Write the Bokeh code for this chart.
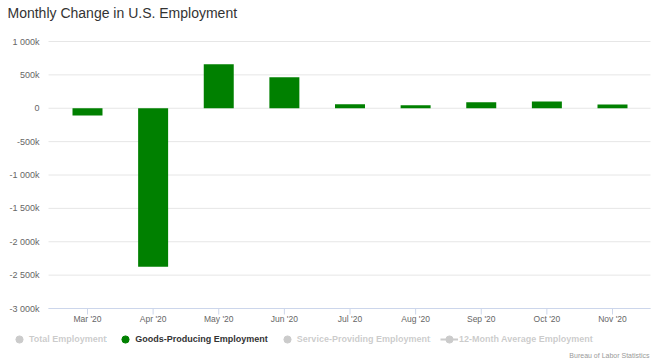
import math
from bokeh.plotting import figure
from bokeh.layouts import column
from bokeh.models import Range1d, Legend, LegendItem, Label
from bokeh.embed import file_html
from bokeh.resources import INLINE

# ---- data (thousands of jobs) ----
months = ["Mar '20", "Apr '20", "May '20", "Jun '20", "Jul '20",
          "Aug '20", "Sep '20", "Oct '20", "Nov '20"]
goods_producing = [-110, -2375, 660, 465, 60, 45, 90, 100, 55]

y_ticks = [1000, 500, 0, -500, -1000, -1500, -2000, -2500, -3000]
y_tick_labels = ["1 000k", "500k", "0", "-500k", "-1 000k", "-1 500k",
                 "-2 000k", "-2 500k", "-3 000k"]

legend_labels = ["Total Employment", "Goods-Producing Employment",
                 "Service-Providing Employment", "12-Month Average Employment"]

title_text = "Monthly Change in U.S. Employment"
credits_text = "Bureau of Labor Statistics"

FONT = "Liberation Sans"
GREEN = "#008000"
W = 657

# plot-area geometry (styling)
PLOT_X0, PLOT_X1 = -0.594, 8.579      # extent of plot area, category units
VIEW_X0, VIEW_X1 = -1.3257, 8.6857    # full canvas width, category units
YLABEL_X = -0.731                     # right edge of y tick labels
Y_MIN, Y_MAX = -3000, 1000
K_PER_PX = 4000 / 267
VIEW_Y0 = Y_MIN - 22 * K_PER_PX       # room below for the category labels
VIEW_Y1 = Y_MAX + 7 * K_PER_PX


def bare_fig(h):
    f = figure(width=W, height=h, x_range=Range1d(0, W), y_range=Range1d(0, h),
               output_backend="svg", toolbar_location=None, title=None,
               x_axis_type=None, y_axis_type=None, min_border=0)
    f.outline_line_color = None
    f.xgrid.visible = False
    f.ygrid.visible = False
    f.background_fill_color = "white"
    f.border_fill_color = "white"
    return f


# ---------- title strip ----------
p_top = bare_fig(33)
p_top.add_layout(Label(x=7, y=20.5, text=title_text, text_align="left",
                       text_baseline="alphabetic", text_font=FONT,
                       text_font_size="14px", text_color="#333333"))

# ---------- main chart ----------
x_idx = list(range(len(months)))
p = figure(frame_width=W, frame_height=296,
           x_range=Range1d(VIEW_X0, VIEW_X1),
           y_range=Range1d(VIEW_Y0, VIEW_Y1),
           output_backend="svg", toolbar_location=None, title=None,
           x_axis_type=None, y_axis_type=None,
           min_border_left=0, min_border_right=0,
           min_border_top=1, min_border_bottom=0)
p.outline_line_color = None
p.background_fill_color = "white"
p.border_fill_color = "white"
p.xgrid.visible = False
p.ygrid.visible = False

# horizontal grid lines at the y ticks
p.segment(x0=PLOT_X0, x1=PLOT_X1, y0=y_ticks, y1=y_ticks,
          line_color="#e6e6e6", line_width=1)

# y tick labels
p.text(x=[YLABEL_X] * len(y_ticks), y=y_ticks, text=y_tick_labels,
       text_align="right", text_baseline="middle",
       text_font={"value": FONT}, text_font_size="9px", text_color="#666666")

# bars
p.vbar(x=x_idx, top=goods_producing, bottom=0, width=0.457,
       fill_color=GREEN, line_color=None)

# category axis: line, ticks, labels
p.segment(x0=PLOT_X0, x1=PLOT_X1, y0=Y_MIN, y1=Y_MIN,
          line_color="#ccd6eb", line_width=1)
p.ray(x=x_idx, y=[Y_MIN] * len(x_idx), length=6, length_units="screen",
      angle=-math.pi / 2, line_color="#ccd6eb", line_width=1)
p.text(x=x_idx, y=[Y_MIN] * len(x_idx), text=months, y_offset=5,
       text_align="center", text_baseline="top",
       text_font={"value": FONT}, text_font_size="8.5px", text_color="#666666")

# ---------- legend + credits strip ----------
p_bot = bare_fig(30)
off = dict(x=[-100], y=[-100])
r_total = p_bot.scatter(marker="circle", size=8, color="#333333", visible=False, **off)
r_goods = p_bot.scatter(marker="circle", size=8, color=GREEN, **off)
r_serv = p_bot.scatter(marker="circle", size=8, color="#333333", visible=False, **off)
r_avg_l = p_bot.line(x=[-100, -90], y=[-100, -100], line_color="#333333",
                     line_width=2, visible=False)
r_avg_m = p_bot.scatter(marker="circle", size=8, color="#333333", visible=False, **off)

legend = Legend(items=[
    LegendItem(label=legend_labels[0], renderers=[r_total]),
    LegendItem(label=legend_labels[1], renderers=[r_goods]),
    LegendItem(label=legend_labels[2], renderers=[r_serv]),
    LegendItem(label=legend_labels[3], renderers=[r_avg_l, r_avg_m]),
], orientation="horizontal", location=(10, 12), click_policy="hide",
    glyph_width=18, glyph_height=18, label_standoff=1, spacing=10,
    padding=0, margin=0, border_line_color=None, background_fill_alpha=0,
    label_text_font=FONT, label_text_font_style="bold",
    label_text_font_size="9px", label_text_color="#333333", label_height=14,
    inactive_fill_color="white", inactive_fill_alpha=0.75)
p_bot.add_layout(legend)

p_bot.add_layout(Label(x=649, y=5.5, text=credits_text, text_align="right",
                       text_baseline="middle", text_font=FONT,
                       text_font_size="7px", text_color="#999999"))

layout = column(p_top, p, p_bot, spacing=0)

with open("out.html", "w") as f:
    f.write(file_html(layout, INLINE))
